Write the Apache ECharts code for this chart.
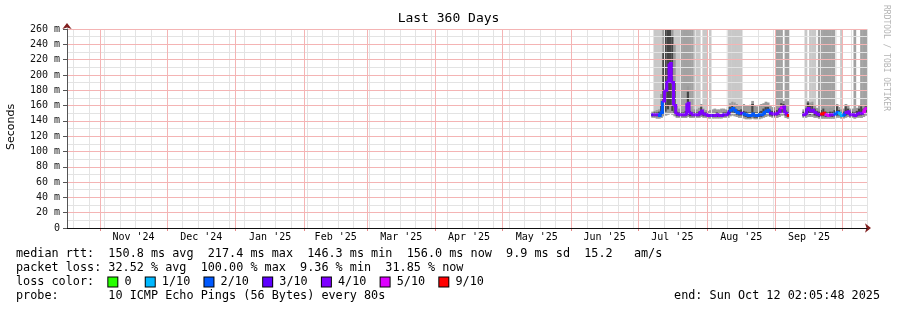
<!DOCTYPE html>
<html><head><meta charset="utf-8">
<script src="https://cdn.jsdelivr.net/npm/echarts@6/dist/echarts.min.js"></script>
<style>html,body{margin:0;padding:0;background:#fff}#c{width:897px;height:310px}</style>
</head><body><div id="c"></div>
<script>
// ---------- text ----------
const titleText = 'Last 360 Days';
const yAxisTitle = 'Seconds';
const watermark = 'RRDTOOL / TOBI OETIKER';
const endStamp = '2025-10-12T02:05:48Z';
const rangeDays = 360;
const yMin = 0, yMax = 260, yStep = 20;

// ---------- x axis: month grid + labels, week grid ----------
const monthStarts = ['2024-11-01','2024-12-01','2025-01-01','2025-02-01','2025-03-01','2025-04-01',
                     '2025-05-01','2025-06-01','2025-07-01','2025-08-01','2025-09-01','2025-10-01'];
const monthLabels = ["Nov '24","Dec '24","Jan '25","Feb '25","Mar '25","Apr '25",
                     "May '25","Jun '25","Jul '25","Aug '25","Sep '25"];
const firstWeekLine = '2024-10-20';

// ---------- data (one entry per day from dataStartDay, null = no data) ----------
const dataStartDay = '2025-07-07';
const medianMs = [148,148,148,147,151,166,180,192,215,190,160,149,148,148,148,149,163,150,148,148,
                  148,149,153,149,148,147,147,147,147,148,147,147,148,148,150,154,156,154,151,150,
                  150,149,148,147,147,149,147,147,148,148,150,153,154,150,149,149,150,152,157,158,
                  150,147,null,null,null,null,null,null,148,150,156,153,154,151,149,148,149,150,148,147,
                  148,148,149,151,150,147,148,151,152,148,148,147,149,150,150,152,156];
const lossTenths = [3,4,4,2,2,4,4,4,4,4,4,4,4,4,4,4,4,4,4,4,
                    4,4,4,4,4,4,4,3,4,4,4,4,3,4,3,2,2,2,2,2,
                    3,2,2,2,2,2,2,2,2,2,2,2,2,3,4,4,4,4,5,4,
                    4,9,null,null,null,null,null,null,4,4,4,4,4,4,4,4,9,9,5,5,
                    4,4,2,2,1,1,2,4,4,4,4,4,4,4,4,5,5];
const smokeBand = [0,1,1,1,1,1,1,1,1,1,1,1,1,2,2,2,2,2,2,1,
                   1,1,0,1,1,0,1,0,0,0,0,0,0,0,1,1,1,1,1,1,
                   1,0,0,0,0,0,0,0,0,0,0,0,0,0,0,0,2,2,2,0,
                   2,2,null,null,null,null,null,null,0,1,0,1,1,1,0,2,2,2,2,2,
                   2,2,2,0,0,1,0,0,0,0,0,2,0,0,2,2,2];
const smokeLo = [144,144,143,143,144,146,147,148,150,148,146,144,144,144,144,144,145,144,144,144,
                 144,144,145,144,144,143,143,143,143,143,143,143,144,144,144,146,147,146,145,144,
                 144,143,142,142,142,143,142,142,142,143,144,145,146,145,144,144,144,145,147,147,
                 144,143,null,null,null,null,null,null,144,144,145,145,145,144,144,143,143,143,143,143,
                 143,143,143,144,144,143,143,144,145,144,144,143,144,144,144,145,147];
const smokeHi = [152,153,154,155,175,300,300,300,300,300,240,160,156,155,155,160,185,158,155,155,
                 155,157,162,156,154,153,154,155,156,155,155,156,156,155,158,163,165,164,162,160,
                 160,162,160,160,161,166,160,159,161,162,163,165,164,160,158,158,160,162,168,166,
                 160,156,null,null,null,null,null,null,155,160,166,164,165,160,157,156,158,160,157,156,
                 157,157,160,162,158,155,156,162,160,156,156,156,157,160,162,160,162];
const coreLo = [146,146,146,145,147,150,152,155,160,153,149,146,146,146,146,146,148,146,146,146,
                146,146,148,146,146,145,145,145,145,145,145,145,146,146,147,150,151,150,148,147,
                147,146,145,144,144,146,144,144,145,145,147,149,150,147,146,146,147,148,151,151,
                147,145,null,null,null,null,null,null,146,147,149,148,149,147,146,145,146,146,145,145,
                145,145,146,147,147,145,145,147,148,146,146,145,146,147,147,148,151];
const coreHi = [150,151,151,152,160,230,260,262,262,250,190,152,151,151,151,153,178,153,151,151,
                151,152,158,152,151,150,150,150,150,151,150,150,151,151,154,158,160,158,155,154,
                155,153,152,151,151,162,151,151,152,153,156,158,158,154,153,153,154,156,163,162,
                154,151,null,null,null,null,null,null,152,156,164,160,161,156,153,152,154,156,152,151,
                152,152,154,159,154,151,152,159,156,152,152,151,153,156,159,156,159];

// ---------- legend / stats ----------
const lossLegend = ['0','1/10','2/10','3/10','4/10','5/10','9/10'];
const lossLegendTenths = [0,1,2,3,4,5,9];
const lossColors = ['#26ff00','#00b8ff','#0059ff','#5e00ff','#7e00ff','#dd00ff','#ff0000'];
const statsRtt  = 'median rtt:  150.8 ms avg  217.4 ms max  146.3 ms min  156.0 ms now  9.9 ms sd  15.2   am/s';
const statsLoss = 'packet loss: 32.52 % avg  100.00 % max  9.36 % min  31.85 % now';
const lossTitle = 'loss color:  ';
const probeText = 'probe:       10 ICMP Echo Pings (56 Bytes) every 80s';
const endText   = 'end: Sun Oct 12 02:05:48 2025';

// ---------- build ----------
const DAY = 86400000;
const toT = s => Date.parse(s + 'T00:00:00Z');
const endTime = Date.parse(endStamp);
const startTime = endTime - rangeDays * DAY;
const monthT = monthStarts.map(toT);
const monthMid = monthLabels.map((_, i) => (monthT[i] + monthT[i + 1]) / 2);
const weekT = [];
for (let t = toT(firstWeekLine); t < endTime; t += 7 * DAY) weekT.push(t);
const yMajor = [];
for (let v = yMin + yStep; v <= yMax; v += yStep) yMajor.push(v);

const colorOf = l => lossColors[lossLegendTenths.indexOf(l)];
const bandColors = [null, '#c8c8c8', '#a2a2a2'];

const t0Data = toT(dataStartDay);
const items = [];
medianMs.forEach((m, i) => { if (m != null) items.push([t0Data + i * DAY, t0Data + (i + 1) * DAY, m, i]); });

function renderSmoke(params, api) {
  const i = api.value(3), t0 = api.value(0), t1 = api.value(1);
  const cs = params.coordSys;
  const box = {x: cs.x, y: cs.y, width: cs.width, height: cs.height};
  const children = [];
  const add = (lo, hi, fill) => {
    const a = api.coord([t0, hi]), b = api.coord([t1, lo]);
    const r = echarts.graphic.clipRectByRect({x: a[0], y: a[1], width: b[0] - a[0] + 0.5, height: b[1] - a[1]}, box);
    if (r) children.push({type: 'rect', shape: r, style: {fill}});
  };
  if (smokeBand[i] > 0) add(smokeLo[i], yMax, bandColors[smokeBand[i]]);
  add(smokeLo[i], smokeHi[i], '#9a9a9a');
  add(coreLo[i], coreHi[i], '#444444');
  return {type: 'group', children};
}

function renderMedian(params, api) {
  const i = api.value(3), t0 = api.value(0), t1 = api.value(1), m = api.value(2);
  const pts = [api.coord([t0, m]), api.coord([t1, m])];
  const nx = medianMs[i + 1];
  if (nx != null) pts.push(api.coord([t1, nx]));
  return {type: 'polyline', shape: {points: pts}, style: {stroke: colorOf(lossTenths[i]), lineWidth: 3, fill: null}};
}

const MONO = 'DejaVu Sans Mono';
const GRID_MINOR = '#e3e3e3';
const GRID_MAJOR = '#f4b4b4';
const baseX = {type: 'value', min: startTime, max: endTime, position: 'bottom', offset: 0, z: 3,
               axisLine: {show: false}, axisLabel: {show: false}, axisTick: {show: false}, splitLine: {show: false}};

const rich = {};
let lossText = lossTitle;
lossLegend.forEach((l, k) => {
  rich['b' + k] = {width: 9, height: 9, backgroundColor: lossColors[k], borderColor: '#000', borderWidth: 1};
  lossText += '{b' + k + '|}{t| ' + l + (k < lossLegend.length - 1 ? '  ' : '') + '}';
});
rich.t = {fontFamily: MONO, fontSize: 11.8, fill: '#000'};

const txt = (x, y, text, extra) => Object.assign({type: 'text', x, y, silent: true,
  style: Object.assign({text, fontFamily: MONO, fontSize: 11.8, fill: '#000', align: 'left', verticalAlign: 'middle'}, extra || {})});

const option = {
  animation: false,
  backgroundColor: '#fff',
  grid: {left: 67, right: 30, top: 29, bottom: 82, containLabel: false},
  xAxis: [
    Object.assign({}, baseX, {
      z: 5,
      axisLine: {show: true, lineStyle: {color: '#111', width: 1}},
      axisLabel: {show: true, customValues: monthMid, margin: 4, fontFamily: MONO, fontSize: 10, color: '#000',
                  formatter: v => monthLabels[monthMid.indexOf(v)]}
    }),
    Object.assign({}, baseX, {
      axisTick: {show: false, customValues: weekT},
      splitLine: {show: true, lineStyle: {color: GRID_MINOR, width: 1, type: 'solid'}}
    }),
    Object.assign({}, baseX, {
      axisTick: {show: true, customValues: monthT, length: 3, inside: false, lineStyle: {color: '#e58a8a'}}
    }),
    Object.assign({}, baseX, {
      axisLine: {show: true, symbol: ['none', 'arrow'], symbolSize: [7, 6], symbolOffset: [0, 4],
                 lineStyle: {color: '#801f1f', width: 0}}
    })
  ],
  yAxis: [
    {type: 'value', min: yMin, max: yMax, interval: yStep, position: 'left', z: 5,
     axisLine: {show: true, lineStyle: {color: '#555', width: 1}},
     axisTick: {show: true, length: 4, lineStyle: {color: '#555'}},
     axisLabel: {margin: 7, fontFamily: MONO, fontSize: 10, color: '#111', formatter: v => v === 0 ? '0' : v + ' m'},
     splitLine: {show: false},
     minorTick: {show: false, splitNumber: 2},
     minorSplitLine: {show: true, lineStyle: {color: GRID_MINOR, width: 1, type: 'solid'}}},
    {type: 'value', min: yMin, max: yMax, interval: yStep, position: 'left', offset: 0, z: 4,
     axisLine: {show: true, symbol: ['none', 'arrow'], symbolSize: [7, 6], symbolOffset: [0, 6],
                lineStyle: {color: '#801f1f', width: 0}},
     axisTick: {show: false}, axisLabel: {show: false}, splitLine: {show: false}}
  ],
  series: [
    {type: 'custom', name: 'smoke', z: 1, xAxisIndex: 0, yAxisIndex: 0, data: items,
     encode: {x: [0, 1], y: 2}, renderItem: renderSmoke, silent: true},
    {type: 'line', name: 'major grid', z: 4, xAxisIndex: 0, yAxisIndex: 0, data: [], silent: true,
     markLine: {silent: true, symbol: ['none', 'none'], animation: false, label: {show: false},
                emphasis: {disabled: true}, lineStyle: {color: GRID_MAJOR, width: 1, type: 'solid'},
                data: monthT.map(t => ({xAxis: t})).concat(yMajor.map(v => ({yAxis: v})))}},
    {type: 'custom', name: 'median rtt', z: 5, xAxisIndex: 0, yAxisIndex: 0, data: items,
     encode: {x: [0, 1], y: 2}, renderItem: renderMedian, silent: true}
  ],
  graphic: [
    txt(448.5, 19, titleText, {fontSize: 13, align: 'center'}),
    Object.assign(txt(11, 127, yAxisTitle, {fontFamily: 'DejaVu Sans', fontSize: 11, align: 'center'}), {rotation: Math.PI / 2}),
    Object.assign(txt(886, 58, watermark, {fontSize: 8, fill: '#b4b4b4', align: 'center'}), {rotation: -Math.PI / 2}),
    txt(16, 254, statsRtt),
    txt(16, 268, statsLoss),
    txt(16, 282, lossText, {rich}),
    txt(16, 296, probeText),
    txt(880, 296, endText, {align: 'right'})
  ]
};

const chart = echarts.init(document.getElementById('c'), null, {renderer: 'canvas', width: 897, height: 310});
chart.setOption(option);
</script>
</body></html>
